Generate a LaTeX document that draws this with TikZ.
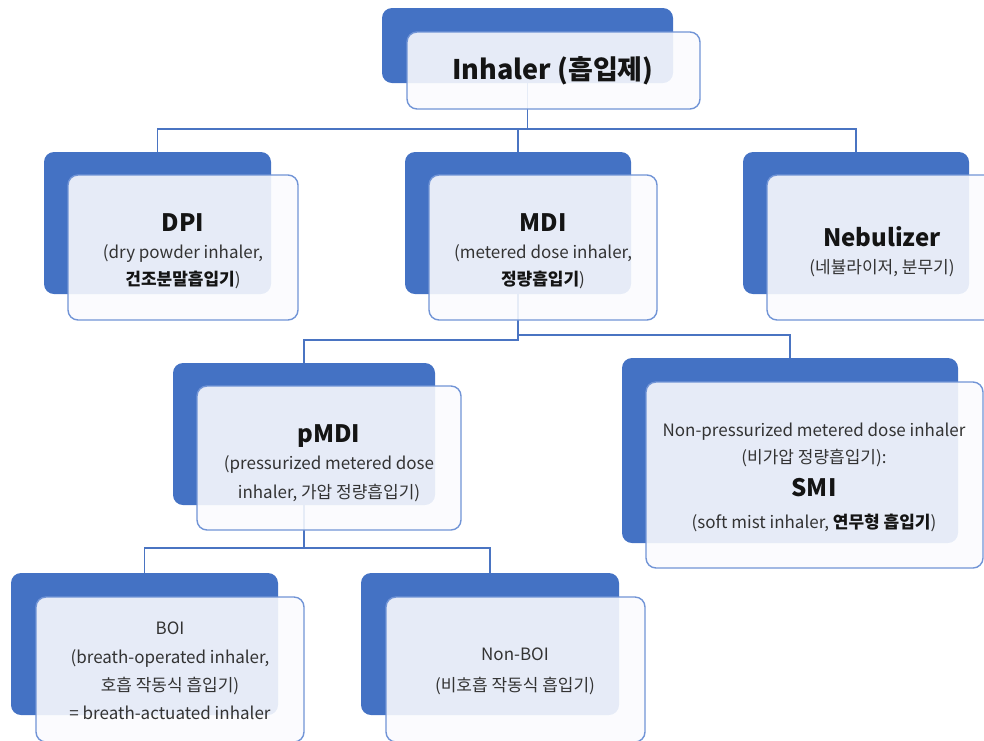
\documentclass[tikz,border=0pt]{standalone}
\usepackage{fontspec}
\setmainfont{Noto Sans CJK KR}
\definecolor{boxblue}{HTML}{4472C4}
\definecolor{edgeblue}{HTML}{7194D6}
\definecolor{linkblue}{HTML}{4A74C2}
\definecolor{paper}{HTML}{FAFBFE}
\definecolor{txt}{HTML}{333333}
\newcommand\boxtitle[1]{{\fontsize{24}{27}\selectfont\bfseries\color{black!92}#1}}
\newcommand\bk[1]{{\bfseries\color{black!92}#1}}
\tikzset{
  backbox/.style={fill=boxblue, draw=none, rounded corners=10pt, inner sep=0pt, outer sep=0pt},
  frontbox/.style={fill=paper, fill opacity=0.89, draw=edgeblue, line width=1.4pt, rounded corners=10pt, inner sep=0pt, outer sep=0pt},
  link/.style={draw=linkblue, line width=1.3pt},
  lbl/.style={align=center, text=txt, font=\fontsize{17}{27}\selectfont, inner sep=0pt},
}
\begin{document}
\begin{tikzpicture}[x=1pt,y=-1pt]
\useasboundingbox (0,0) rectangle (984,740);
% back boxes
\node[backbox, minimum width=291pt, minimum height=75pt] (rootB) at (527.5,45.5) {};
\node[backbox, minimum width=227pt, minimum height=142pt] (dpiB) at (157.5,223) {};
\node[backbox, minimum width=226pt, minimum height=142pt] (mdiB) at (518,223) {};
\node[backbox, minimum width=226pt, minimum height=142pt] (nebB) at (856,223) {};
\node[backbox, minimum width=262pt, minimum height=142pt] (pmdiB) at (304,434) {};
\node[backbox, minimum width=336pt, minimum height=185pt] (smiB) at (790,450.5) {};
\node[backbox, minimum width=267pt, minimum height=142pt] (boiB) at (144.5,644) {};
\node[backbox, minimum width=258pt, minimum height=142pt] (nboiB) at (490,644) {};
% connectors
\coordinate (j1) at (527.5,129);
\coordinate (j2) at (518,340);
\coordinate (j3) at (518,335);
\coordinate (j4) at (304,548);
\draw[link] (rootB.south) -- (j1);
\draw[link] (dpiB.north) |- (j1) -| (nebB.north);
\draw[link] (mdiB.north) -- (mdiB.north |- j1);
\draw[link] (mdiB.south) -- (j2) -| (pmdiB.north);
\draw[link] (j3) -| (smiB.north);
\draw[link] (pmdiB.south) -- (j4);
\draw[link] (boiB.north) |- (j4) -| (nboiB.north);
% front boxes
\node[frontbox, minimum width=293pt, minimum height=77pt] (rootF) at (553.5,70.5) {};
\node[frontbox, minimum width=230pt, minimum height=145pt] (dpiF) at (183,247.5) {};
\node[frontbox, minimum width=228pt, minimum height=145pt] (mdiF) at (543,247.5) {};
\node[frontbox, minimum width=230pt, minimum height=145pt] (nebF) at (882,247.5) {};
\node[frontbox, minimum width=264pt, minimum height=144pt] (pmdiF) at (329,458) {};
\node[frontbox, minimum width=337pt, minimum height=186pt] (smiF) at (814.5,475) {};
\node[frontbox, minimum width=268pt, minimum height=145pt] (boiF) at (170,669.5) {};
\node[frontbox, minimum width=259pt, minimum height=145pt] (nboiF) at (515.5,669.5) {};
% texts
\node[lbl] (rootT) at (553,71) {{\fontsize{27}{30}\selectfont\bfseries\color{black!92}Inhaler (흡입제)}};
\node[lbl] (dpiT) at (183,251) {\boxtitle{DPI}\\(dry powder inhaler,\\\bk{건조분말흡입기})};
\node[lbl] (mdiT) at (543,251) {\boxtitle{MDI}\\(metered dose inhaler,\\\bk{정량흡입기})};
\node[lbl] (nebT) at (882,252) {\boxtitle{Nebulizer}\\(네뷸라이저, 분무기)};
\node[lbl] (pmdiT) at (329,463) {\boxtitle{pMDI}\\(pressurized metered dose\\[2pt]inhaler, 가압 정량흡입기)};
\node[lbl] (smiT) at (814,477) {Non-pressurized metered dose inhaler\\(비가압 정량흡입기):\\[6pt]\boxtitle{SMI}\\[5pt](soft mist inhaler, \bk{연무형 흡입기})};
\node[lbl] (boiT) at (170,671) {BOI\\[2pt](breath-operated inhaler,\\[1pt]호흡 작동식 흡입기)\\[1pt]= breath-actuated inhaler};
\node[lbl] (nboiT) at (515,671) {Non-BOI\\[4pt](비호흡 작동식 흡입기)};
\end{tikzpicture}
\end{document}
